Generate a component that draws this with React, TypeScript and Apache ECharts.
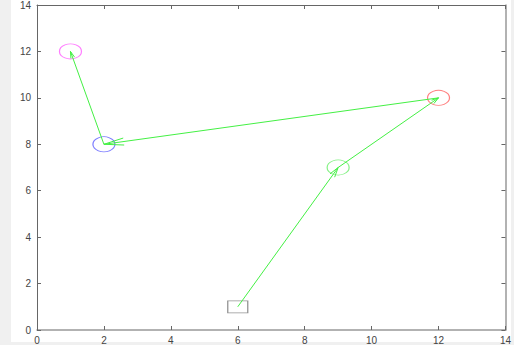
import React, { useEffect, useRef } from "react";
import * as echarts from "echarts";

// Path of the arrows (visited points in order)
const pathX = [6, 9, 12, 2, 1];
const pathY = [1, 7, 10, 8, 12];

// Circle markers
const circleX = [9, 12, 2, 1];
const circleY = [7, 10, 8, 12];
const circleColors = ["#66ee66", "#ff6060", "#5a5aff", "#ff5cff"];

// Start square
const startX = [6];
const startY = [1];

const xTicks = [0, 2, 4, 6, 8, 10, 12, 14];
const yTicks = [0, 2, 4, 6, 8, 10, 12, 14];

export default function App() {
  const ref = useRef<HTMLDivElement>(null);
  useEffect(() => {
    if (!ref.current) return;
    const chart = echarts.init(ref.current, null, { renderer: "svg" });
    const segments: number[][] = [];
    for (let i = 0; i < pathX.length - 1; i++) {
      segments.push([pathX[i], pathY[i], pathX[i + 1], pathY[i + 1]]);
    }
    const labelStyle = { color: "#444", fontSize: 10, fontFamily: "Liberation Sans, Arial, sans-serif" };
    const xMin = xTicks[0], xMax = xTicks[xTicks.length - 1];
    const yMin = yTicks[0], yMax = yTicks[yTicks.length - 1];
    const mk = (color: string, width: number) => ({
      type: "value" as const, interval: 2,
      axisLine: { show: true, onZero: false, lineStyle: { color, width } },
      axisTick: { show: true, inside: true, length: 4, lineStyle: { color: "#666" } },
      splitLine: { show: false },
    });
    chart.setOption({
      animation: false,
      backgroundColor: "#f0f0f0",
      graphic: [
        { type: "rect", z: -100, shape: { x: 11, y: 0, width: 500, height: 342 }, style: { fill: "#ffffff" }, silent: true },
      ],
      grid: { left: 37, right: 5, top: 5, bottom: 15, containLabel: false },
      xAxis: [
        { ...mk("#999", 1.5), min: xMin, max: xMax, position: "bottom", axisLabel: { ...labelStyle, margin: 5 } },
        { ...mk("#666", 1), min: xMin, max: xMax, position: "top", axisLabel: { show: false } },
      ],
      yAxis: [
        { ...mk("#666", 1), min: yMin, max: yMax, position: "left", axisLabel: { ...labelStyle, margin: 6 } },
        { ...mk("#999", 1.5), min: yMin, max: yMax, position: "right", axisLabel: { show: false } },
      ],
      series: [
        {
          type: "custom",
          xAxisIndex: 0,
          yAxisIndex: 0,
          data: segments,
          encode: { x: [0, 2], y: [1, 3] },
          z: 3,
          renderItem: (params: any, api: any) => {
            const p1 = api.coord([api.value(0), api.value(1)]);
            const p2 = api.coord([api.value(2), api.value(3)]);
            const dx = p2[0] - p1[0];
            const dy = p2[1] - p1[1];
            const len = Math.sqrt(dx * dx + dy * dy);
            const ux = dx / len, uy = dy / len;
            const head = Math.max(7, len * 0.06);
            const angDeg = len > 250 ? 10 : 16;
            const ang = (angDeg * Math.PI) / 180;
            const bx = -ux, by = -uy;
            const c = Math.cos(ang), s = Math.sin(ang);
            const h1 = [p2[0] + head * (bx * c - by * s), p2[1] + head * (bx * s + by * c)];
            const h2 = [p2[0] + head * (bx * c + by * s), p2[1] + head * (-bx * s + by * c)];
            const style = { stroke: "#44f044", lineWidth: 1, fill: "none" };
            return {
              type: "group",
              children: [
                { type: "line", shape: { x1: p1[0], y1: p1[1], x2: p2[0], y2: p2[1] }, style },
                { type: "polyline", shape: { points: [h1, p2, h2] }, style },
              ],
            };
          },
        },
        ...circleX.map((x, i) => ({
          type: "scatter",
          data: [[x, circleY[i]]],
          symbol: "circle",
          symbolSize: [22, 15],
          z: 2,
          itemStyle: { color: "rgba(0,0,0,0)", borderColor: circleColors[i], borderWidth: 1 },
        })),
        {
          type: "scatter",
          data: startX.map((x, i) => [x, startY[i]]),
          symbol: "rect",
          symbolSize: [20, 12],
          z: 2,
          itemStyle: { color: "rgba(0,0,0,0)", borderColor: "#777777", borderWidth: 1 },
        },
      ],
    });
    return () => chart.dispose();
  }, []);
  return <div ref={ref} style={{ position: "fixed", left: 0, top: 0, width: 514, height: 345 }} />;
}
